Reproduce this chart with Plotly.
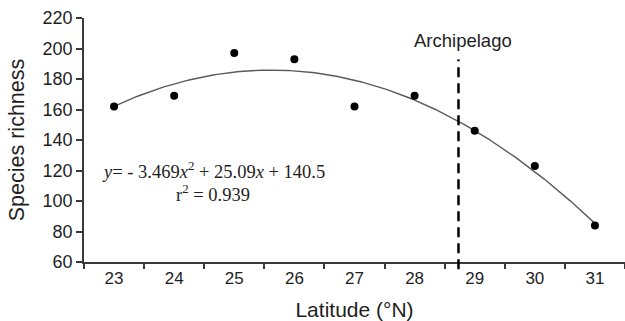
import numpy as np
import plotly.graph_objects as go

# Data
latitude = [23, 24, 25, 26, 27, 28, 29, 30, 31]
richness = [162, 169, 197, 193, 162, 169, 146, 123, 84]
tick_labels = ["23", "24", "25", "26", "27", "28", "29", "30", "31"]

# Fitted quadratic (x = index 1..9 for 23..31)
fit_a, fit_b, fit_c = -3.469, 25.09, 140.5
archipelago_lat = 28.73

xs = np.linspace(latitude[0], latitude[-1], 200)
idx = xs - (latitude[0] - 1)
fit_y = fit_a * idx ** 2 + fit_b * idx + fit_c

axis_col = "#3a3a3a"
text_col = "#1e1e1e"

fig = go.Figure()
fig.add_trace(go.Scatter(x=xs, y=fit_y, mode="lines",
                         line=dict(color="#5a5a5a", width=1.4),
                         hoverinfo="skip", showlegend=False))
fig.add_trace(go.Scatter(x=latitude, y=richness, mode="markers",
                         marker=dict(color="black", size=8),
                         showlegend=False))

fig.add_shape(type="line", xref="x", yref="paper",
              x0=archipelago_lat, x1=archipelago_lat, y0=-0.03, y1=0.83,
              line=dict(color="black", width=2.5, dash="10px,6px"))

fig.add_annotation(x=archipelago_lat + 0.07, y=205, xref="x", yref="y",
                   text="Archipelago", showarrow=False,
                   font=dict(family="Liberation Sans, Arial", size=18.5, color=text_col))

fig.add_annotation(x=24.65, y=120.5, xref="x", yref="y",
                   text="<i>y</i>= - 3.469<i>x</i><sup>2</sup> + 25.09<i>x</i> + 140.5",
                   showarrow=False,
                   font=dict(family="Liberation Serif, Times New Roman", size=18.5, color=text_col))
fig.add_annotation(x=24.64, y=105, xref="x", yref="y",
                   text="r<sup>2</sup> = 0.939",
                   showarrow=False,
                   font=dict(family="Liberation Serif, Times New Roman", size=18.5, color=text_col))

fig.update_layout(
    width=625, height=321,
    margin=dict(l=84, r=0, t=18, b=59),
    paper_bgcolor="white", plot_bgcolor="white",
    font=dict(family="Liberation Sans, Arial", color=text_col),
    xaxis=dict(range=[22.5, 31.5], tickvals=latitude, ticktext=tick_labels,
               ticks="", showgrid=False, zeroline=False,
               showline=True, linecolor=axis_col, linewidth=1.5,
               tickfont=dict(size=17, color=text_col),
               minor=dict(tick0=23.5, dtick=1, ticks="outside", ticklen=5,
                          tickcolor=axis_col, tickwidth=1.5, showgrid=False),
               title=dict(text="Latitude (°N)", font=dict(size=21, color=text_col), standoff=16)),
    yaxis=dict(range=[60, 220], tickvals=[60, 80, 100, 120, 140, 160, 180, 200, 220],
               ticks="outside", ticklen=6, tickcolor=axis_col, tickwidth=1.5,
               showgrid=False, zeroline=False,
               showline=True, linecolor=axis_col, linewidth=1.5,
               tickfont=dict(size=18, color=text_col),
               title=dict(text="Species richness", font=dict(size=21.5, color=text_col), standoff=12)),
)

fig.write_html("out.html")
